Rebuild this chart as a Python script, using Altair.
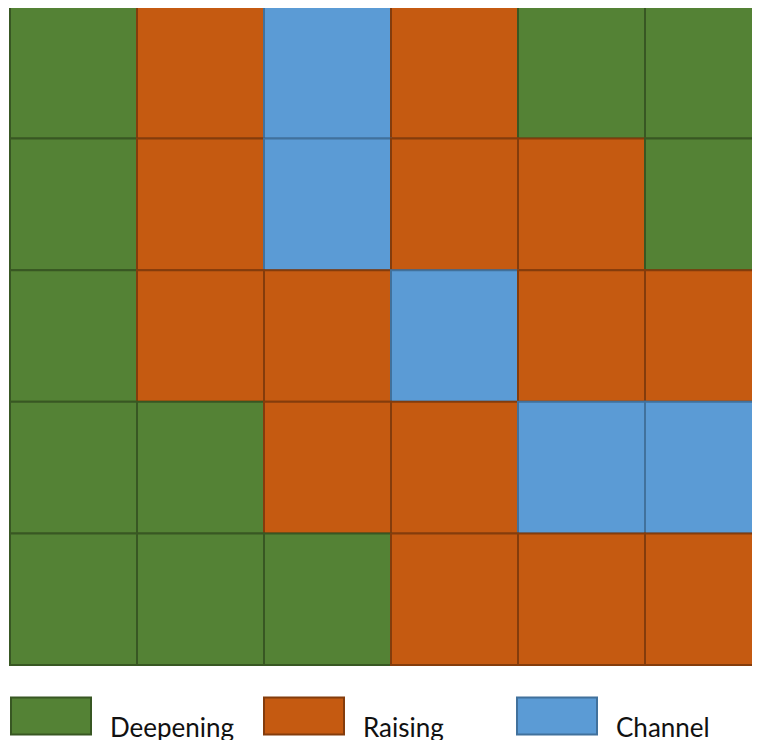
import altair as alt
import pandas as pd

categories = ["Deepening", "Raising", "Channel"]
fill_colors = ["#548235", "#C55A11", "#5B9BD5"]
stroke_colors = ["#385723", "#843C0C", "#41719C"]

grid = [
    ["Deepening", "Raising", "Channel", "Raising", "Deepening", "Deepening"],
    ["Deepening", "Raising", "Channel", "Raising", "Raising", "Deepening"],
    ["Deepening", "Raising", "Raising", "Channel", "Raising", "Raising"],
    ["Deepening", "Deepening", "Raising", "Raising", "Channel", "Channel"],
    ["Deepening", "Deepening", "Deepening", "Raising", "Raising", "Raising"],
]

rows = []
for r, row in enumerate(grid):
    for c, t in enumerate(row):
        rows.append({"c0": c, "c1": c + 1, "r0": r, "r1": r + 1, "type": t})
df = pd.DataFrame(rows)

legend = alt.Legend(
    title=None,
    orient="none",
    legendX=2,
    legendY=667,
    direction="horizontal",
    columns=3,
    gridAlign="all",
    symbolType="M-1,-0.4625H1V0.4625H-1Z",
    symbolSize=80 * 80,
    symbolStrokeWidth=2,
    symbolOpacity=1,
    labelFont="Lato",
    labelFontSize=26,
    labelColor="#111111",
    labelOffset=18,
    labelBaseline="top",
    labelLimit=300,
    columnPadding=25,
    padding=0,
)

chart = (
    alt.Chart(df)
    .mark_rect(strokeWidth=2, opacity=1, clip=False)
    .encode(
        x=alt.X("c0:Q", scale=alt.Scale(domain=[0, 6], range=[2, 764]), axis=None),
        x2="c1:Q",
        y=alt.Y("r0:Q", scale=alt.Scale(domain=[0, 5], range=[-1, 657]), axis=None),
        y2="r1:Q",
        fill=alt.Fill("type:N", scale=alt.Scale(domain=categories, range=fill_colors), legend=legend),
        stroke=alt.Stroke("type:N", scale=alt.Scale(domain=categories, range=stroke_colors), legend=legend),
    )
    .properties(
        width=744,
        height=740,
        autosize=alt.AutoSizeParams(type="none"),
        padding=0,
    )
    .configure_view(stroke=None)
)

chart.save("out.html", embed_options={"renderer": "svg", "actions": False})
